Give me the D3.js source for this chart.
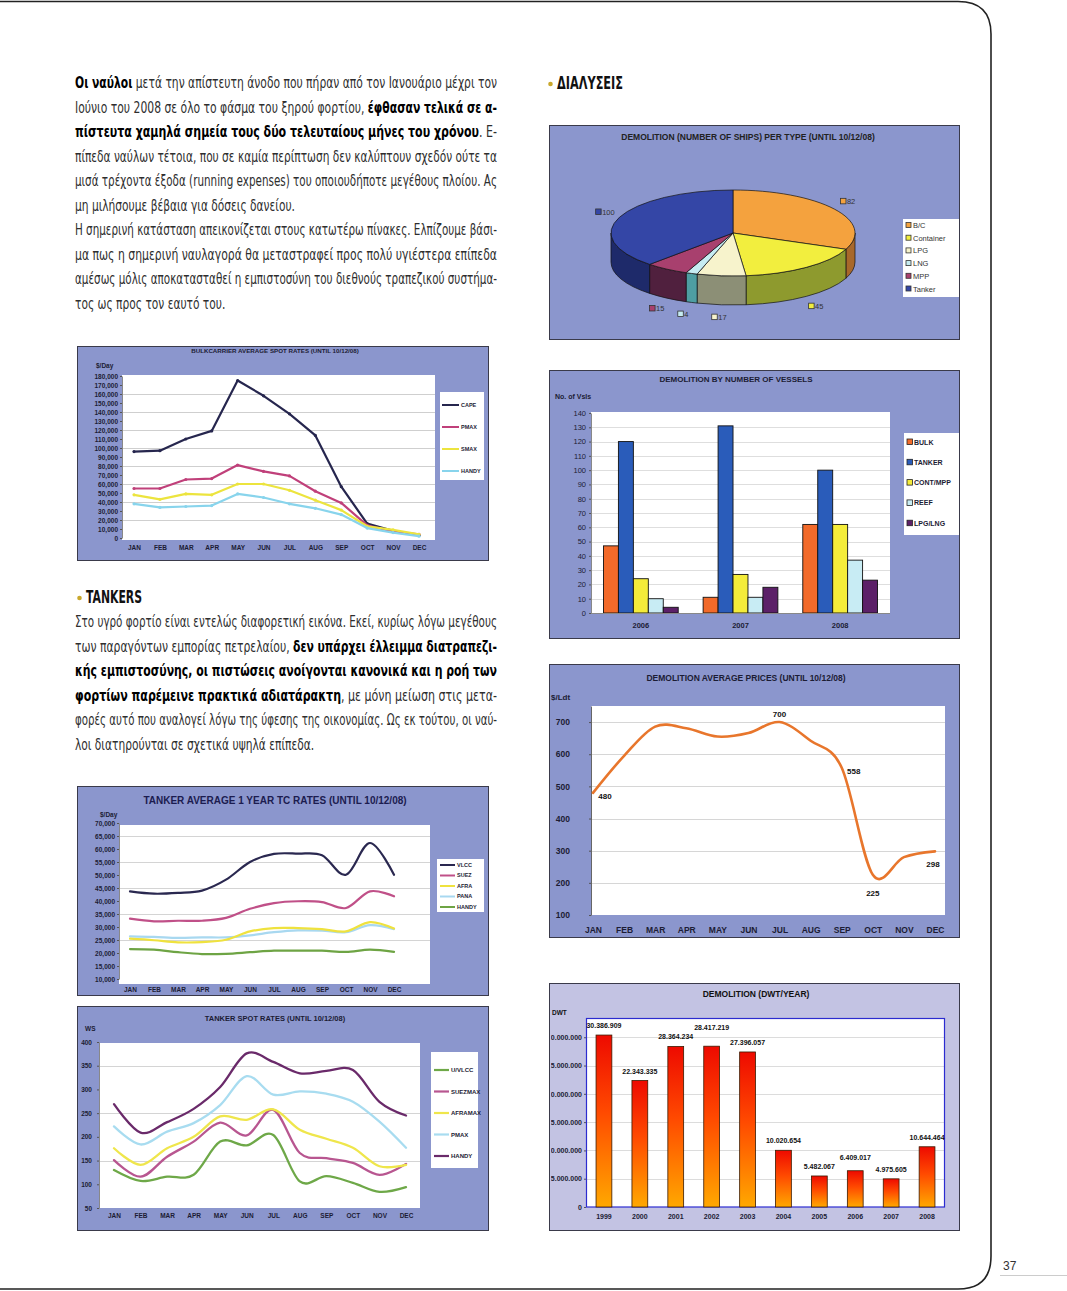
<!DOCTYPE html>
<html lang="el">
<head>
<meta charset="utf-8">
<title>Διαλύσεις</title>
<script src="https://d3js.org/d3.v7.min.js"></script>
<style>
  body { margin: 0; background: #fff; }
  svg { display: block; }
</style>
</head>
<body>
<svg id="page" width="1067" height="1291"></svg>
<script>
const months = ['JAN','FEB','MAR','APR','MAY','JUN','JUL','AUG','SEP','OCT','NOV','DEC'];

// demolition per type (pie)
const pieTypes = ['B/C','Container','LPG','LNG','MPP','Tanker'];
const pieValues = [82, 45, 17, 4, 15, 100];

// bulkcarrier spot rates
const bulkNames = ['CAPE','PMAX','SMAX','HANDY'];
const bulkCape  = [96000, 97000, 110000, 119000, 175000, 158000, 138000, 114000, 57000, 16000, 8000, 3000];
const bulkPmax  = [55000, 55000, 65000, 66000, 81000, 74000, 69000, 52000, 39000, 14000, 7000, 4000];
const bulkSmax  = [48000, 43000, 49000, 48000, 60000, 60000, 53000, 42000, 31000, 13000, 9000, 4000];
const bulkHandy = [38000, 34000, 35000, 36000, 49000, 45000, 38000, 33000, 26000, 11000, 6000, 2000];
const bulkTicks = d3.range(0, 180001, 10000);

// demolition by number of vessels
const vslYears = ['2006','2007','2008'];
const vslTypes = ['BULK','TANKER','CONT/MPP','REEF','LPG/LNG'];
const vslBulk   = [47, 11, 62];
const vslTanker = [120, 131, 100];
const vslCont   = [24, 27, 62];
const vslReef   = [10, 11, 37];
const vslLpg    = [4, 18, 23];
const vslTicks  = d3.range(0, 141, 10);

// demolition average prices
const priceValues = [480, 595, 686, 681, 655, 666, 700, 642, 558, 225, 280, 298];
const priceLabelAt = ['r','','','','','','a','','r','b','','e'];
const priceTicks = [100, 200, 300, 400, 500, 600, 700];

// tanker 1 year TC rates
const tcNames = ['VLCC','SUEZ','AFRA','PANA','HANDY'];
const tcVlcc  = [43700, 42800, 43100, 44000, 48200, 55000, 58100, 58200, 57600, 50100, 62300, 50100];
const tcSuez  = [33200, 32200, 32400, 32400, 33500, 37000, 39200, 39900, 39600, 37300, 43700, 41800];
const tcAfra  = [25500, 24900, 24100, 24200, 25100, 28300, 29600, 29600, 29200, 28300, 31900, 29400];
const tcPana  = [26400, 26200, 25800, 26000, 26000, 26800, 28000, 28700, 28600, 28000, 30700, 29200];
const tcHandy = [21500, 21300, 20300, 19600, 19700, 20300, 20900, 20900, 20900, 20400, 21300, 20400];
const tcTicks = d3.range(10000, 70001, 5000);

// tanker spot rates (WS)
const spotNames = ['U/VLCC','SUEZMAX','AFRAMAX','PMAX','HANDY'];
const spotVlcc  = [130, 107, 116, 120, 190, 182, 204, 106, 117, 103, 84, 94];
const spotSuez  = [151, 116, 158, 190, 230, 203, 257, 166, 155, 145, 120, 143];
const spotAfra  = [176, 141, 176, 200, 243, 236, 258, 215, 196, 177, 138, 141];
const spotPmax  = [222, 184, 211, 229, 267, 328, 289, 296, 291, 274, 232, 177];
const spotHandy = [269, 209, 231, 259, 305, 376, 358, 334, 339, 341, 274, 245];
const spotTicks = [50, 100, 150, 200, 250, 300, 350, 400];

// demolition dwt / year
const dwtYears  = ['1999','2000','2001','2002','2003','2004','2005','2006','2007','2008'];
const dwtValues = [30386909, 22343335, 28364234, 28417219, 27396057, 10020654, 5482067, 6409017, 4975605, 10644464];
const dwtTicks  = [0, 5000000, 10000000, 15000000, 20000000, 25000000, 30000000];

const svg = d3.select('#page');
const SANS = '"Liberation Sans", Arial, sans-serif';
const NARROW = '"Liberation Sans Narrow", "DejaVu Sans Condensed", sans-serif';
const PERI = '#8b96cd';
const INK = '#1c1c34';
const dots = d3.format(',');
const dotFmt = v => dots(v).replace(/,/g, '.');

// ---------- page frame
svg.append('path')
  .attr('d', 'M0,1.5H958Q991,1.5 991,34V1256Q991,1289 958,1289H0')
  .attr('fill', 'none').attr('stroke', '#222').attr('stroke-width', 1.6);
svg.append('line').attr('x1', 1000).attr('x2', 1067).attr('y1', 1275.5).attr('y2', 1275.5)
  .attr('stroke', '#ccc');
svg.append('text').attr('x', 1003).attr('y', 1270).attr('font-family', SANS)
  .attr('font-size', 12).attr('fill', '#333').text('37');

// ---------- body text
function drawLines(lines, x, y0, lh, width, color) {
  const items = lines.map((ln, i) => {
    const t = svg.append('text').attr('x', x).attr('y', y0 + i * lh)
      .attr('font-family', NARROW).attr('font-size', 15).attr('fill', color);
    ln.segs.forEach(s => t.append('tspan')
      .attr('font-weight', s[0] === 'b' ? 'bold' : 'normal')
      .attr('fill', s[0] === 'b' ? '#000' : color)
      .text(s[1]));
    return {t, ln, w: t.node().getComputedTextLength()};
  });
  const k = d3.mean(items.filter(d => d.ln.just), d => width / d.w);
  items.forEach(d => d.t.attr('textLength', d.ln.just ? width : d.w * k)
    .attr('lengthAdjust', 'spacingAndGlyphs'));
}

function heading(x, y, s, w) {
  svg.append('circle').attr('cx', x - 6.5).attr('cy', y - 5).attr('r', 2.3).attr('fill', '#c9a82c');
  svg.append('text').attr('x', x).attr('y', y).attr('font-family', NARROW)
    .attr('font-size', 17).attr('font-weight', 'bold').attr('fill', '#111')
    .attr('textLength', w).attr('lengthAdjust', 'spacingAndGlyphs').text(s);
}

drawLines([
  {just: true, segs: [['b', 'Οι ναύλοι'], ['r', ' μετά την απίστευτη άνοδο που πήραν από τον Ιανουάριο μέχρι τον']]},
  {just: true, segs: [['r', 'Ιούνιο του 2008 σε όλο το φάσμα του ξηρού φορτίου, '], ['b', 'έφθασαν τελικά σε α-']]},
  {just: true, segs: [['b', 'πίστευτα χαμηλά σημεία τους δύο τελευταίους μήνες του χρόνου'], ['r', '. Ε-']]},
  {just: true, segs: [['r', 'πίπεδα ναύλων τέτοια, που σε καμία περίπτωση δεν καλύπτουν σχεδόν ούτε τα']]},
  {just: true, segs: [['r', 'μισά τρέχοντα έξοδα (running expenses) του οποιουδήποτε μεγέθους πλοίου. Ας']]},
  {just: false, segs: [['r', 'μη μιλήσουμε βέβαια για δόσεις δανείου.']]},
  {just: true, segs: [['r', 'Η σημερινή κατάσταση απεικονίζεται στους κατωτέρω πίνακες. Ελπίζουμε βάσι-']]},
  {just: true, segs: [['r', 'μα πως η σημερινή ναυλαγορά θα μεταστραφεί προς πολύ υγιέστερα επίπεδα']]},
  {just: true, segs: [['r', 'αμέσως μόλις αποκατασταθεί η εμπιστοσύνη του διεθνούς τραπεζικού συστήμα-']]},
  {just: false, segs: [['r', 'τος ως προς τον εαυτό του.']]}
], 75, 88, 24.55, 422, '#2e2e2e');

heading(86, 603, 'TANKERS', 56);
drawLines([
  {just: true, segs: [['r', 'Στο υγρό φορτίο είναι εντελώς διαφορετική εικόνα. Εκεί, κυρίως λόγω μεγέθους']]},
  {just: true, segs: [['r', 'των παραγόντων εμπορίας πετρελαίου, '], ['b', 'δεν υπάρχει έλλειμμα διατραπεζι-']]},
  {just: true, segs: [['b', 'κής εμπιστοσύνης, οι πιστώσεις ανοίγονται κανονικά και η ροή των']]},
  {just: true, segs: [['b', 'φορτίων παρέμεινε πρακτικά αδιατάρακτη'], ['r', ', με μόνη μείωση στις μετα-']]},
  {just: true, segs: [['r', 'φορές αυτό που αναλογεί λόγω της ύφεσης της οικονομίας. Ως εκ τούτου, οι ναύ-']]},
  {just: false, segs: [['r', 'λοι διατηρούνται σε σχετικά υψηλά επίπεδα.']]}
], 75, 627, 24.55, 422, '#2e2e2e');

heading(557, 89, 'ΔΙΑΛΥΣΕΙΣ', 66);

// ---------- helpers
function chartBox(x, y, w, h, fill) {
  svg.append('rect').attr('x', x + 0.5).attr('y', y + 0.5).attr('width', w).attr('height', h)
    .attr('fill', fill).attr('stroke', '#3a3a4a').attr('stroke-width', 1);
}
function plotRect(x0, y0, x1, y1, stroke) {
  svg.append('rect').attr('x', x0).attr('y', y0).attr('width', x1 - x0).attr('height', y1 - y0)
    .attr('fill', '#fff').attr('stroke', stroke || 'none');
}
function txt(x, y, s, size, opts = {}) {
  return svg.append('text').attr('x', x).attr('y', y).attr('font-family', SANS)
    .attr('font-size', size).attr('font-weight', opts.weight || 'bold')
    .attr('text-anchor', opts.anchor || 'start').attr('fill', opts.fill || INK).text(s);
}
function grid(scale, vals, x0, x1, color) {
  svg.append('g').selectAll('line').data(vals).join('line')
    .attr('x1', x0).attr('x2', x1)
    .attr('y1', d => Math.round(scale(d)) + 0.5).attr('y2', d => Math.round(scale(d)) + 0.5)
    .attr('stroke', color || '#cfcfcf').attr('stroke-width', 1);
}
function axisY(scale, ticks, x, fmt, size, weight, pad, parent) {
  const g = (parent || svg).append('g').attr('transform', `translate(${x},0)`)
    .call(d3.axisLeft(scale).tickValues(ticks).tickFormat(fmt).tickSize(2).tickSizeOuter(0).tickPadding(pad || 2));
  g.select('.domain').attr('stroke', '#888');
  g.selectAll('.tick line').attr('stroke', '#555');
  g.selectAll('text').attr('font-family', SANS).attr('font-size', size)
    .attr('font-weight', weight).attr('fill', INK);
  return g;
}
function axisX(scale, y, size, pad, weight) {
  const g = svg.append('g').attr('transform', `translate(0,${y})`)
    .call(d3.axisBottom(scale).tickSize(0).tickPadding(pad));
  g.select('.domain').remove();
  g.selectAll('text').attr('font-family', SANS).attr('font-size', size)
    .attr('font-weight', weight || 'bold').attr('fill', INK);
  return g;
}
function series(xs, ys, values, color, width, curve) {
  svg.append('path').datum(values)
    .attr('fill', 'none').attr('stroke', color).attr('stroke-width', width)
    .attr('stroke-linejoin', 'round').attr('stroke-linecap', 'round')
    .attr('d', d3.line().x((d, i) => xs(months[i])).y(d => ys(d)).curve(curve));
}
function lineLegend(x0, x1, y0, dy, names, colors, size, width) {
  names.forEach((n, i) => {
    const y = y0 + i * dy;
    svg.append('line').attr('x1', x0).attr('x2', x1).attr('y1', y).attr('y2', y)
      .attr('stroke', colors[i]).attr('stroke-width', width);
    txt(x1 + 2, y + size * 0.36, n, size);
  });
}

// ---------- pie : demolition per type
chartBox(549, 125, 410, 214, PERI);
txt(748, 140, 'DEMOLITION (NUMBER OF SHIPS) PER TYPE (UNTIL 10/12/08)', 8.5, {anchor: 'middle', fill: '#222'});
const pieTop  = ['#f4a23e', '#f2ee3e', '#f7f3cc', '#c6ecf2', '#a8406e', '#3446a6'];
const pieSide = ['#a8682a', '#8e9a2e', '#8c8f76', '#4e9ea2', '#50203e', '#1e2a6a'];
const arcs = d3.pie().sort(null).value(d => d)(pieValues);
const cx = 733, cy = 233, rx = 122, ry = 43, dep = 29;
const P = (a, dy = 0) => [cx + rx * Math.sin(a), cy - ry * Math.cos(a) + dy].map(v => v.toFixed(2));
const pieG = svg.append('g').attr('stroke', '#111').attr('stroke-width', 0.7).attr('stroke-linejoin', 'round');
arcs.forEach((a, i) => {
  const s = Math.max(a.startAngle, Math.PI / 2), e = Math.min(a.endAngle, 3 * Math.PI / 2);
  if (e <= s) return;
  pieG.append('path').attr('fill', pieSide[i])
    .attr('d', `M${P(s)}A${rx},${ry} 0 0 1 ${P(e)}L${P(e, dep)}A${rx},${ry} 0 0 0 ${P(s, dep)}Z`);
});
arcs.forEach((a, i) => {
  const large = a.endAngle - a.startAngle > Math.PI ? 1 : 0;
  pieG.append('path').attr('fill', pieTop[i])
    .attr('d', `M${cx},${cy}L${P(a.startAngle)}A${rx},${ry} 0 ${large} 1 ${P(a.endAngle)}Z`);
});
arcs.forEach((a, i) => {
  const m = (a.startAngle + a.endAngle) / 2;
  const front = Math.cos(m) < 0;
  const lx = cx + rx * 1.14 * Math.sin(m);
  const ly = cy - ry * 1.3 * Math.cos(m) + (front ? dep : 0);
  svg.append('rect').attr('x', lx - 8).attr('y', ly - 3.5).attr('width', 5.5).attr('height', 5.5)
    .attr('fill', pieTop[i]).attr('stroke', '#333').attr('stroke-width', 0.8);
  txt(lx - 1.5, ly + 2.5, pieValues[i], 7.5, {weight: 'normal', fill: '#333'});
});
svg.append('rect').attr('x', 903).attr('y', 219).attr('width', 56).attr('height', 78).attr('fill', '#fff');
pieTypes.forEach((t, i) => {
  const y = 225.5 + i * 12.7;
  svg.append('rect').attr('x', 906).attr('y', y - 3).attr('width', 5).attr('height', 5)
    .attr('fill', pieTop[i]).attr('stroke', '#333').attr('stroke-width', 0.8);
  txt(913, y + 2.5, t, 7.5, {weight: 'normal', fill: '#333'});
});

// ---------- bulkcarrier average spot rates
chartBox(77, 346, 411, 214, PERI);
txt(275, 353, 'BULKCARRIER AVERAGE SPOT RATES (UNTIL 10/12/08)', 6.2, {anchor: 'middle'});
txt(96, 368, '$/Day', 6.5);
plotRect(122, 375, 435, 540);
const xB = d3.scalePoint(months, [134, 419]);
const yB = d3.scaleLinear([0, 180000], [538, 376]);
grid(yB, d3.range(20000, 160001, 20000), 122, 435);
axisY(yB, bulkTicks, 122, dots, 6.5, 'bold');
axisX(xB, 540, 6.5, 5);
const bulkColors = ['#26264e', '#c0407a', '#ece43e', '#88d4ec'];
[bulkCape, bulkPmax, bulkSmax, bulkHandy].forEach((vals, k) => {
  series(xB, yB, vals, bulkColors[k], 2.2, d3.curveLinear);
  svg.append('g').selectAll('circle').data(vals).join('circle')
    .attr('cx', (d, i) => xB(months[i])).attr('cy', d => yB(d)).attr('r', 1.6)
    .attr('fill', bulkColors[k]);
});
svg.append('rect').attr('x', 440).attr('y', 392).attr('width', 44).attr('height', 88).attr('fill', '#fff');
lineLegend(442, 459, 405, 22, bulkNames, bulkColors, 5.5, 2);

// ---------- demolition by number of vessels
chartBox(549, 370, 410, 268, PERI);
txt(736, 382, 'DEMOLITION BY NUMBER OF VESSELS', 8, {anchor: 'middle'});
txt(555, 399, 'No. of Vsls', 7);
plotRect(591, 412, 890, 613);
const yC = d3.scaleLinear([0, 140], [613, 413]);
const x0C = d3.scaleBand(vslYears, [591, 890]).paddingInner(0.25).paddingOuter(0.125);
const x1C = d3.scaleBand(vslTypes, [0, x0C.bandwidth()]);
grid(yC, d3.range(10, 131, 10), 591, 890, '#dedede');
axisY(yC, vslTicks, 591, d => d, 7.5, 'normal', 3);
axisX(x0C, 613, 7.5, 10);
const vslColors = ['#f26a2a', '#2a5cba', '#f4ec3a', '#c8ecf4', '#5c2068'];
const vslSeries = [vslBulk, vslTanker, vslCont, vslReef, vslLpg];
const vslRows = [];
vslYears.forEach((yr, j) => vslTypes.forEach((t, i) => vslRows.push({yr, t, i, v: vslSeries[i][j]})));
svg.append('g').selectAll('rect').data(vslRows).join('rect')
  .attr('x', d => x0C(d.yr) + x1C(d.t)).attr('width', x1C.bandwidth())
  .attr('y', d => yC(d.v)).attr('height', d => yC(0) - yC(d.v))
  .attr('fill', d => vslColors[d.i]).attr('stroke', '#111').attr('stroke-width', 0.9);
svg.append('line').attr('x1', 591).attr('x2', 890).attr('y1', 613.5).attr('y2', 613.5).attr('stroke', '#888');
svg.append('rect').attr('x', 904).attr('y', 433).attr('width', 55).attr('height', 102).attr('fill', '#fff');
vslTypes.forEach((t, i) => {
  const y = 442 + i * 20.3;
  svg.append('rect').attr('x', 907).attr('y', y - 3).attr('width', 5.5).attr('height', 5.5)
    .attr('fill', vslColors[i]).attr('stroke', '#222').attr('stroke-width', 0.8);
  txt(914, y + 2.5, t, 7);
});

// ---------- demolition average prices
chartBox(549, 664, 410, 273, PERI);
txt(746, 681, 'DEMOLITION AVERAGE PRICES (UNTIL 10/12/08)', 8.5, {anchor: 'middle'});
txt(551, 700, '$/Ldt', 8);
plotRect(591, 706, 945, 915);
const xD = d3.scalePoint(months, [593, 935]);
const yD = d3.scaleLinear([100, 750], [915, 706]);
grid(yD, [200, 300, 400, 500, 600, 700], 591, 945, '#d6d6d6');
axisY(yD, priceTicks, 591, d => d, 8.5, 'bold', 19).select('.domain').attr('stroke', '#666');
axisX(xD, 915, 8.5, 12);
series(xD, yD, priceValues, '#e8762c', 2.6, d3.curveCardinal);
const off = {r: [12, 6], a: [0, -5], b: [0, 21], e: [-2, 16]};
priceValues.forEach((v, i) => {
  const p = priceLabelAt[i];
  if (!p) return;
  txt(xD(months[i]) + off[p][0], yD(v) + off[p][1], v, 8, {anchor: 'middle', fill: '#111'});
});

// ---------- tanker average 1 year TC rates
chartBox(77, 786, 411, 209, PERI);
txt(275, 804, 'TANKER AVERAGE 1 YEAR TC RATES (UNTIL 10/12/08)', 10, {anchor: 'middle', fill: '#1c1c50'});
txt(100, 817, '$/Day', 6.5);
plotRect(119, 825, 430, 984);
const xE = d3.scalePoint(months, [130, 394]);
const yE = d3.scaleLinear([10000, 70000], [979, 823]);
grid(yE, [25000, 35000, 45000, 55000, 65000], 119, 430, '#d4d4d4');
axisY(yE, tcTicks, 119, dots, 6.5, 'bold', 2);
axisX(xE, 984, 6.5, 3);
const tcColors = ['#2a2850', '#c05088', '#efe23e', '#a8d8f0', '#6ea444'];
[tcHandy, tcPana, tcAfra, tcSuez, tcVlcc].forEach((vals, k) =>
  series(xE, yE, vals, tcColors[4 - k], 2.2, d3.curveCardinal));
svg.append('rect').attr('x', 437).attr('y', 859).attr('width', 47).attr('height', 53).attr('fill', '#fff');
lineLegend(440, 455, 865, 10.5, tcNames, tcColors, 5.5, 2);

// ---------- tanker spot rates
chartBox(77, 1006, 411, 224, PERI);
txt(275, 1021, 'TANKER SPOT RATES  (UNTIL 10/12/08)', 7.5, {anchor: 'middle'});
txt(85, 1031, 'WS', 6.5);
plotRect(99, 1043, 420, 1208);
const xF = d3.scalePoint(months, [114, 406]);
const yF = d3.scaleLinear([50, 400], [1208, 1042]);
grid(yF, [150, 250, 350], 99, 420, '#d4d4d4');
axisY(yF, spotTicks, 99, d => d, 6.5, 'bold', 5);
axisX(xF, 1208, 6.5, 5);
const spotColors = ['#6ea848', '#b85690', '#efe64c', '#a8dcf0', '#6a2a6a'];
[spotVlcc, spotSuez, spotAfra, spotPmax, spotHandy].forEach((vals, k) =>
  series(xF, yF, vals, spotColors[k], 2.3, d3.curveCardinal));
svg.append('rect').attr('x', 431).attr('y', 1052).attr('width', 47).attr('height', 116).attr('fill', '#fff');
lineLegend(434, 449, 1070, 21.5, spotNames, spotColors, 6, 2.2);

// ---------- demolition dwt / year
chartBox(549, 983, 410, 247, '#c3c3e3');
txt(756, 997, 'DEMOLITION (DWT/YEAR)', 8.5, {anchor: 'middle', fill: '#111'});
txt(552, 1015, 'DWT', 6.5, {fill: '#111'});
svg.append('clipPath').attr('id', 'dwtClip').append('rect')
  .attr('x', 551).attr('y', 984).attr('width', 408).attr('height', 246);
plotRect(586, 1018, 945, 1207);
const xG = d3.scaleBand(dwtYears, [586, 945]).paddingInner(0.56).paddingOuter(0.28);
const yG = d3.scaleLinear([0, 33400000], [1207, 1018]);
grid(yG, dwtTicks.slice(1), 586, 945, '#dcdcdc');
const dwtAxisHolder = svg.append('g').attr('clip-path', 'url(#dwtClip)');
axisY(yG, dwtTicks, 586, dotFmt, 7, 'bold', 2, dwtAxisHolder).select('.domain').remove();
axisX(xG, 1207, 7, 7);
svg.append('rect').attr('x', 586.5).attr('y', 1018.5).attr('width', 358).attr('height', 188.5)
  .attr('fill', 'none').attr('stroke', '#2c2cd0').attr('stroke-width', 1.2);
const grad = svg.append('defs').append('linearGradient').attr('id', 'dwtGrad')
  .attr('x1', 0).attr('y1', 0).attr('x2', 0).attr('y2', 1);
grad.append('stop').attr('offset', 0).attr('stop-color', '#ee0a00');
grad.append('stop').attr('offset', 0.45).attr('stop-color', '#ff4a00');
grad.append('stop').attr('offset', 1).attr('stop-color', '#ffa800');
svg.append('g').selectAll('rect').data(dwtValues).join('rect')
  .attr('x', (d, i) => xG(dwtYears[i])).attr('width', xG.bandwidth())
  .attr('y', d => yG(d)).attr('height', d => yG(0) - yG(d))
  .attr('fill', 'url(#dwtGrad)').attr('stroke', '#3a1a00').attr('stroke-width', 0.8);
const placed = [];
dwtValues.forEach((v, i) => {
  const x = xG(dwtYears[i]) + xG.bandwidth() / 2;
  let y = yG(v) - 7;
  placed.forEach(p => { if (Math.abs(p.x - x) < 40 && Math.abs(p.y - y) < 9) y = p.y - 9; });
  placed.push({x, y});
  txt(x, y, dotFmt(v), 7, {anchor: 'middle', fill: '#111'});
});
</script>
</body>
</html>
